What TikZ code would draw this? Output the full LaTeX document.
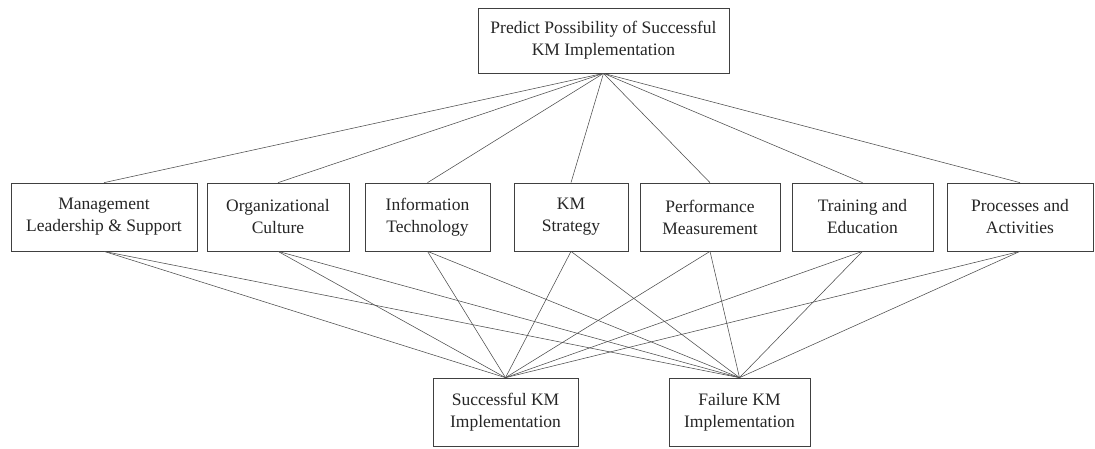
\documentclass[tikz,border=0pt]{standalone}
\usepackage{fontspec}
\setmainfont{Liberation Serif}
\usepackage{tikz}
\usetikzlibrary{positioning}

\begin{document}
\begin{tikzpicture}[
    x=1pt, y=-1pt,
    factor/.style={draw=black!75, line width=0.7pt, fill=white, minimum height=68pt, align=center, inner sep=2pt, font=\fontsize{17.5}{22}\selectfont, text=black!85},
    link/.style={draw=black!70, line width=0.55pt}
]
\useasboundingbox (0,0) rectangle (1095,448);

% Goal
\node[factor, minimum width=251pt, minimum height=65pt] (goal) at (603.5, 40.5) {Predict Possibility of Successful\\KM Implementation};

% Factors
\node[factor, minimum width=186pt] (mls) at (104, 217) {Management\\Leadership \& Support};
\node[factor, minimum width=142pt] (oc) at (278, 217) {Organizational\\Culture};
\node[factor, minimum width=125pt] (it) at (427.5, 217) {Information\\Technology};
\node[factor, minimum width=114pt] (kms) at (571, 217) {KM\\Strategy};
\node[factor, minimum width=140pt] (pm) at (710, 217) {Performance\\Measurement};
\node[factor, minimum width=141pt] (te) at (862.5, 217) {Training and\\Education};
\node[factor, minimum width=146pt] (pa) at (1020, 217) {Processes and\\Activities};

% Outcomes
\node[factor, minimum width=145pt] (succ) at (505.5, 412) {Successful KM\\Implementation};
\node[factor, minimum width=141pt] (fail) at (739.5, 412) {Failure KM\\Implementation};

% Links
\foreach \f in {mls, oc, it, kms, pm, te, pa} {
    \draw[link] (goal.south) -- (\f.north);
    \draw[link] (\f.south) -- (succ.north);
    \draw[link] (\f.south) -- (fail.north);
}

\end{tikzpicture}
\end{document}
